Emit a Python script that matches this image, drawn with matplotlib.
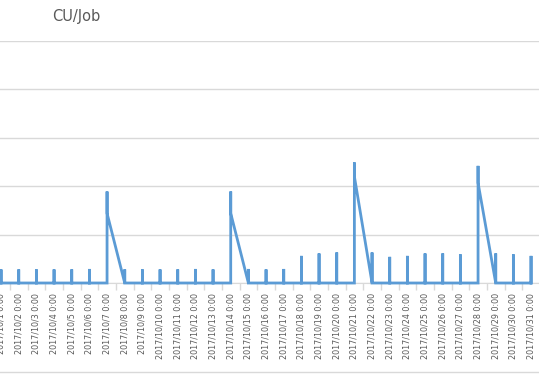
import matplotlib
matplotlib.use('Agg')
import matplotlib.pyplot as plt
import numpy as np

# one category per day, Excel date axis
dates = ['2017/10/%d 0:00' % d for d in range(1, 32)]

# highest value reached on each day
job_peak = [0.28, 0.28, 0.28, 0.28, 0.28, 0.29, 1.89,
            0.28, 0.28, 0.28, 0.28, 0.29, 0.28, 1.89,
            0.29, 0.28, 0.29, 0.56, 0.61, 0.63, 2.49,
            0.63, 0.54, 0.56, 0.61, 0.61, 0.59, 2.42,
            0.61, 0.59, 0.56]

# last value of each day (0 unless the line carries over to the next day)
job_end = [0, 0, 0, 0, 0, 0, 1.44,
           0, 0, 0, 0, 0, 0, 1.44,
           0, 0, 0, 0, 0, 0, 2.2,
           0, 0, 0, 0, 0, 0, 2.07,
           0, 0, 0]

xs = []
ys = []
for i in range(len(dates)):
    xs += [i, i, i]
    ys += [0, job_peak[i], job_end[i]]

fig = plt.figure(figsize=(5.39, 3.75), dpi=100)
ax = fig.add_axes([0, 1 - 283 / 375, 1, (283 - 41) / 375])

ax.plot(xs, ys, color='#5b9bd5', linewidth=2.0, solid_joinstyle='miter', zorder=3, clip_on=False)

ax.set_yticks(np.arange(0, 6, 1))
ax.tick_params(axis='y', left=False, labelleft=False)
ax.grid(axis='y', color='#d9d9d9', linewidth=1.0)
ax.set_axisbelow(True)

ax.set_xticks(range(len(dates)))
ax.set_xticklabels(dates, rotation=90, fontsize=5.8, color='#595959')
ax.set_xticks(np.arange(-0.5, len(dates), 1), minor=True)
ax.tick_params(axis='x', which='major', length=0, pad=7)
ax.tick_params(axis='x', which='minor', length=5, color='#d9d9d9', width=1)

# limits after the ticks, otherwise set_xticks widens them
ax.set_xlim(-0.06, 30.45)
ax.set_ylim(0, 5)

for s in ['top', 'right', 'left']:
    ax.spines[s].set_visible(False)
ax.spines['bottom'].set_color('#d9d9d9')

fig.text(52 / 539, 1 - 17 / 375, 'CU/Job', fontsize=10.5, color='#595959', va='center', ha='left')

# chart area border at the bottom
fig.add_artist(plt.Line2D([0, 1], [1 - 372 / 375] * 2, color='#d9d9d9', linewidth=1))

fig.savefig('out.png', dpi=100)
